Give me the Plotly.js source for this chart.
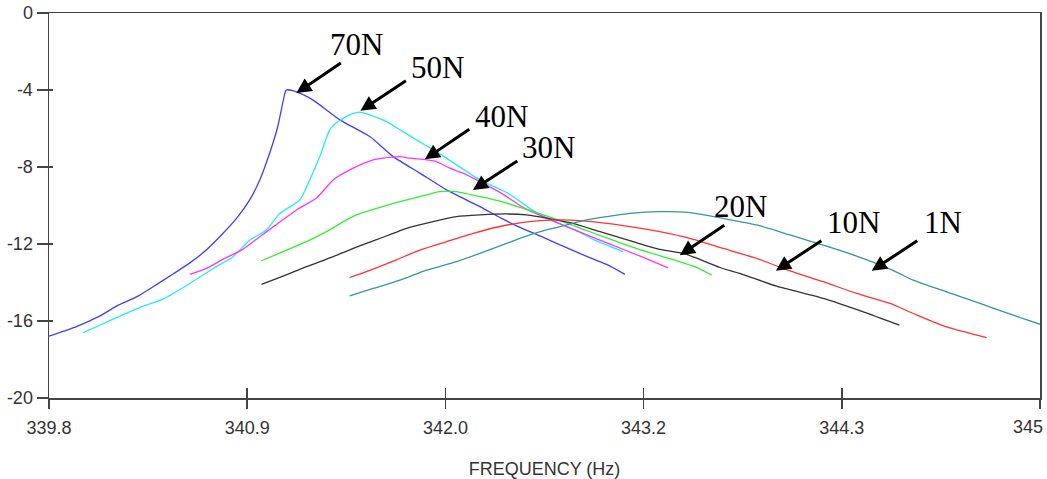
<!DOCTYPE html>
<html>
<head>
<meta charset="utf-8">
<script src="https://cdn.plot.ly/plotly-3.0.1.min.js"></script>
<style>
  html, body { margin: 0; padding: 0; background: #fff; }
  #chart { width: 1047px; height: 479px; }
</style>
</head>
<body>
<div id="chart"></div>
<script>
// ---- Data (frequency in Hz, response in dB) ----
const freq70 = [339.800,339.926,340.014,340.066,340.154,340.259,340.346,340.451,340.539,340.608,340.696,340.784,340.853,340.906,340.958,341.000,341.042,341.048,341.095,341.184,341.326,341.483,341.606,341.746,341.886,342.061,342.175,342.262,342.385,342.524,342.647,342.734,342.822];
const db70   = [-16.79,-16.36,-15.99,-15.75,-15.23,-14.75,-14.22,-13.56,-12.98,-12.46,-11.62,-10.67,-9.71,-8.67,-7.27,-5.92,-4.03,-3.99,-4.08,-4.51,-5.55,-6.42,-7.46,-8.32,-9.19,-10.06,-10.67,-11.10,-11.62,-12.23,-12.75,-13.10,-13.58];

const freq50 = [339.978,340.066,340.154,340.276,340.398,340.539,340.661,340.766,340.853,340.941,341.011,341.116,341.168,341.221,341.273,341.317,341.378,341.431,341.483,341.571,341.658,341.728,341.833,341.938,342.061,342.209,342.349,342.454,342.559,342.664,342.813];
const db50   = [-16.60,-16.22,-15.82,-15.30,-14.86,-14.05,-13.27,-12.66,-11.80,-11.27,-10.41,-9.71,-8.67,-7.46,-6.07,-5.64,-5.29,-5.15,-5.29,-5.64,-6.16,-6.59,-7.20,-7.89,-8.67,-9.37,-10.32,-10.84,-11.27,-11.80,-12.40];

const freq40 = [340.539,340.626,340.722,340.810,340.906,341.011,341.099,341.204,341.291,341.396,341.501,341.553,341.641,341.693,341.781,341.833,341.903,341.973,342.061,342.175,342.297,342.454,342.559,342.734,342.909,343.049];
const db40   = [-13.58,-13.27,-12.75,-12.32,-11.62,-10.86,-10.23,-9.61,-8.67,-8.06,-7.63,-7.54,-7.46,-7.54,-7.63,-7.72,-8.06,-8.32,-8.76,-9.37,-10.15,-10.84,-11.27,-11.97,-12.66,-13.24];

const freq30 = [340.915,341.028,341.151,341.256,341.361,341.414,341.519,341.641,341.746,341.851,341.938,342.061,342.175,342.314,342.472,342.612,342.734,342.909,343.084,343.189,343.277];
const db30   = [-12.87,-12.40,-11.88,-11.36,-10.75,-10.49,-10.15,-9.80,-9.54,-9.28,-9.28,-9.54,-9.80,-10.23,-10.75,-11.27,-11.71,-12.32,-12.84,-13.18,-13.62];

const freq20 = [340.915,341.028,341.151,341.291,341.378,341.501,341.606,341.676,341.816,341.938,342.061,342.201,342.306,342.445,342.550,342.691,342.865,343.005,343.128,343.189,343.320,343.425,343.618,343.863,344.073,344.262];
const db20   = [-14.10,-13.67,-13.18,-12.66,-12.30,-11.84,-11.45,-11.19,-10.84,-10.58,-10.49,-10.44,-10.49,-10.72,-10.93,-11.36,-11.88,-12.28,-12.49,-12.70,-13.22,-13.53,-14.19,-14.83,-15.53,-16.22];

const freq10 = [341.378,341.501,341.623,341.746,341.886,342.026,342.148,342.271,342.376,342.481,342.586,342.726,342.848,343.005,343.163,343.338,343.513,343.688,343.863,344.038,344.213,344.335,344.510,344.720];
const db10   = [-13.74,-13.30,-12.82,-12.32,-11.88,-11.45,-11.13,-10.90,-10.79,-10.75,-10.79,-10.93,-11.10,-11.36,-11.71,-12.23,-12.75,-13.40,-13.96,-14.57,-15.09,-15.61,-16.31,-16.86];

const freq1 = [341.378,341.501,341.641,341.781,341.938,342.061,342.201,342.323,342.411,342.516,342.621,342.726,342.848,343.005,343.163,343.338,343.513,343.688,343.863,344.038,344.213,344.335,344.510,344.685,344.860,345.000];
const db1   = [-14.69,-14.31,-13.88,-13.36,-12.92,-12.49,-11.97,-11.53,-11.27,-11.01,-10.75,-10.58,-10.41,-10.32,-10.37,-10.67,-11.01,-11.53,-12.06,-12.63,-13.30,-13.88,-14.49,-15.09,-15.70,-16.17];

const seriesNames = ['70N','50N','40N','30N','20N','10N','1N'];
const xTickVals  = [339.8, 340.84, 341.88, 342.92, 343.96, 345.0];
const xTickText  = ['339.8','340.9','342.0','343.2','344.3',''];
const lastTickLabel = '345';
const yTickVals  = [0,-4,-8,-12,-16,-20];
const yTickText  = ['0','-4','-8','-12','-16','-20'];

// Label arrow heads (data coords) for each series
const labelX = [341.098, 341.434, 341.772, 342.024, 343.110, 343.614, 344.117];
const labelY = [-4.16, -5.08, -7.60, -9.19, -12.58, -13.39, -13.39];

// ---- Styling ----
const colors = ['#3f3fff','#22eeee','#ff33ff','#33ee33','#333333','#ff3333','#339999'];
const xs = [freq70,freq50,freq40,freq30,freq20,freq10,freq1];
const ys = [db70,db50,db40,db30,db20,db10,db1];

const traces = xs.map((x,i)=>({
  x: x, y: ys[i], type:'scatter', mode:'lines', name: seriesNames[i],
  line:{color: colors[i], width:1.3, shape:'spline', smoothing:0.6}, hoverinfo:'skip'
}));
// empty trace to activate overlay axes for crossing ticks
traces.push({x:[], y:[], xaxis:'x2', yaxis:'y2', type:'scatter', mode:'lines', showlegend:false});

// arrow tail offsets (px) and text offsets (px)
const arrowAx = [46, 47, 46, 46, 46, 47, 47];
const arrowAy = [-31, -31, -31, -30, -31, -31, -31];
const textDx  = [60, 77, 77, 76, 61, 78, 71];
const textDy  = [49, 43, 43, 42, 49, 48, 48];

const tickFont = {family:'"Liberation Sans", Arial, sans-serif', size:18, color:'#333'};

const annotations = [];
seriesNames.forEach((n,i)=>{
  annotations.push({
    x: labelX[i], y: labelY[i], xref:'x', yref:'y', text:'',
    showarrow:true, ax: arrowAx[i], ay: arrowAy[i],
    arrowhead:2, arrowsize:1, arrowwidth:3, arrowcolor:'#000', standoff:0, startstandoff:0
  });
  annotations.push({
    x: labelX[i], y: labelY[i], xref:'x', yref:'y', text: n,
    showarrow:false, xshift: textDx[i], yshift: textDy[i],
    font:{family:'"Liberation Serif","Times New Roman",serif', size:31, color:'#000'}
  });
});
// last x tick label, kept inside the page edge
annotations.push({
  x: xTickVals[xTickVals.length-1], xref:'x', y:0, yref:'paper',
  text: lastTickLabel, showarrow:false, xanchor:'right', yanchor:'middle',
  xshift:5, yshift:-29, font: tickFont
});

const layout = {
  width:1047, height:479,
  margin:{l:49, r:7, t:13, b:81},
  paper_bgcolor:'#fff', plot_bgcolor:'#fff',
  showlegend:false,
  xaxis:{
    range:[339.8,345], tickvals:xTickVals, ticktext:xTickText,
    ticks:'outside', ticklen:9, tickwidth:1.5, tickcolor:'#444',
    ticklabelstandoff:4,
    showgrid:false, zeroline:false, showline:true, linecolor:'#444', linewidth:1.5, mirror:true,
    tickfont:tickFont,
    title:{text:'FREQUENCY (Hz)', font:tickFont, standoff:26}
  },
  yaxis:{
    range:[-20,0], tickvals:yTickVals, ticktext:yTickText,
    ticks:'outside', ticklen:11, tickwidth:1.5, tickcolor:'#444',
    showgrid:false, zeroline:false, showline:true, linecolor:'#444', linewidth:1.5, mirror:true,
    tickfont:tickFont
  },
  xaxis2:{
    overlaying:'x', anchor:'y2', side:'bottom', range:[339.8,345], tickvals:xTickVals,
    ticks:'inside', ticklen:10, tickwidth:1.5, tickcolor:'#444', showticklabels:false,
    showgrid:false, zeroline:false, showline:false
  },
  yaxis2:{
    overlaying:'y', anchor:'x2', side:'left', range:[-20,0], tickvals:yTickVals,
    ticks:'inside', ticklen:4, tickwidth:1.5, tickcolor:'#444', showticklabels:false,
    showgrid:false, zeroline:false, showline:false
  },
  annotations: annotations
};

Plotly.newPlot('chart', traces, layout, {staticPlot:true, displayModeBar:false});
</script>
</body>
</html>
